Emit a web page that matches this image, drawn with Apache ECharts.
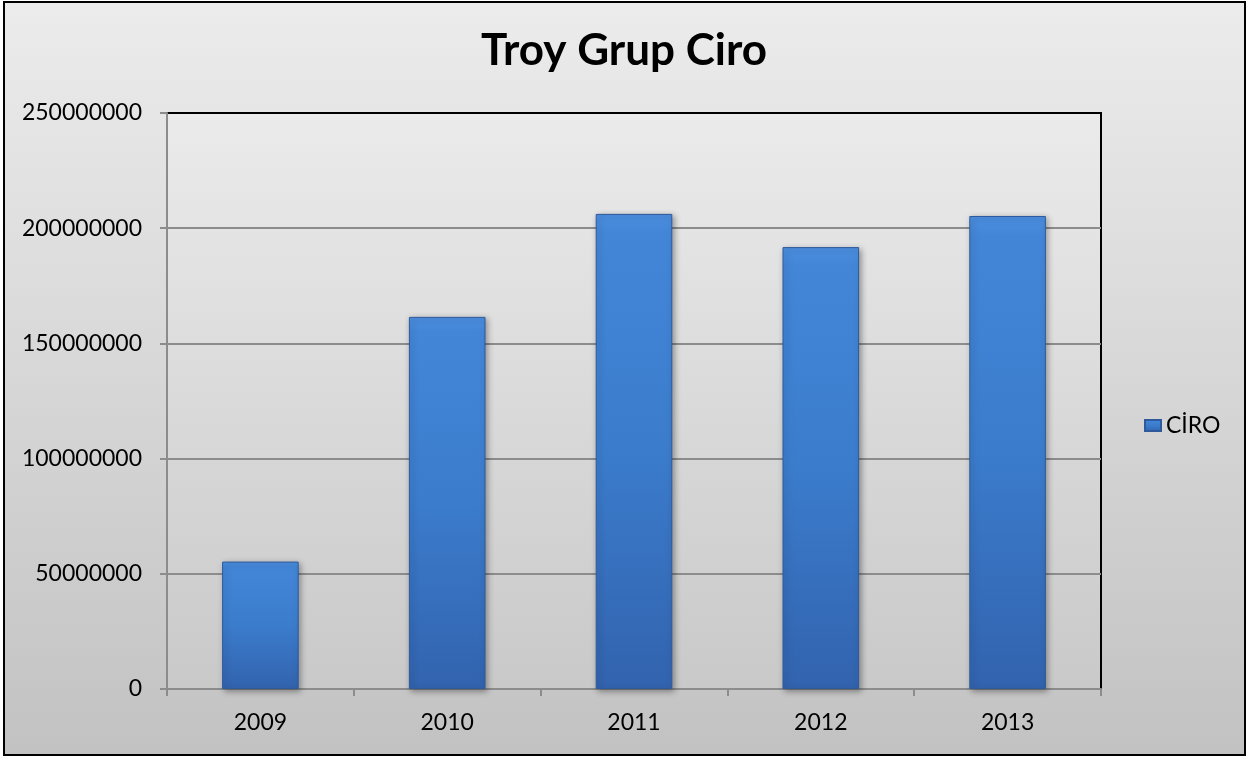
<!DOCTYPE html>
<html>
<head>
<meta charset="utf-8">
<script src="https://cdn.jsdelivr.net/npm/echarts@6/dist/echarts.min.js"></script>
<style>
html,body{margin:0;padding:0;background:#fff;}
#main{width:1248px;height:758px;}
</style>
</head>
<body>
<div id="main"></div>
<script>
const categories = ['2009', '2010', '2011', '2012', '2013'];
const ciroValues = [55300000, 161500000, 206200000, 191800000, 205300000];
const seriesName = 'CİRO';
const titleText = 'Troy Grup Ciro';

const chart = echarts.init(document.getElementById('main'));
const FONT = 'Lato';
chart.setOption({
  animation: false,
  graphic: [{
    type: 'rect', z: -10, silent: true,
    shape: {x: 4, y: 2, width: 1241, height: 753},
    style: {
      fill: new echarts.graphic.LinearGradient(0, 0, 0, 1, [
        {offset: 0, color: '#ececec'}, {offset: 1, color: '#c2c2c2'}
      ]),
      stroke: '#000', lineWidth: 2
    }
  }],
  title: {
    text: titleText, left: 'center', top: 24,
    textStyle: {fontFamily: FONT, fontSize: 44, fontWeight: 'bold', color: '#000'}
  },
  legend: {
    data: [seriesName], orient: 'vertical', left: 1139, top: 409,
    itemWidth: 16, itemHeight: 11, itemGap: 4,
    icon: 'rect',
    textStyle: {fontFamily: FONT, fontSize: 23, color: '#000'}
  },
  grid: {
    left: 167, right: 147, top: 113, bottom: 69,
    show: true,
    backgroundColor: new echarts.graphic.LinearGradient(0, 0, 0, 1, [
      {offset: 0, color: '#ebebeb'}, {offset: 1, color: '#c9c9c9'}
    ]),
    borderColor: '#000', borderWidth: 2
  },
  xAxis: {
    type: 'category', data: categories,
    axisLine: {show: true, lineStyle: {color: '#8c8c8c', width: 2}},
    axisTick: {show: true, length: 7, lineStyle: {color: '#8c8c8c', width: 2}},
    axisLabel: {fontFamily: FONT, fontSize: 23, color: '#000', margin: 22}
  },
  yAxis: {
    type: 'value', min: 0, max: 250000000, interval: 50000000,
    axisLine: {show: true, lineStyle: {color: '#8c8c8c', width: 2}},
    axisTick: {show: true, length: 7, lineStyle: {color: '#8c8c8c', width: 2}},
    axisLabel: {fontFamily: FONT, fontSize: 23, color: '#000', margin: 25,
      formatter: function (v) { return String(v); }},
    splitLine: {show: true, showMaxLine: false, lineStyle: {color: '#8c8c8c', width: 2}}
  },
  series: [{
    name: seriesName, type: 'bar', data: ciroValues, barWidth: '41%',
    itemStyle: {
      color: new echarts.graphic.LinearGradient(0, 0, 0, 1, [
        {offset: 0, color: '#4c8fe0'}, {offset: 0.04, color: '#4386d8'},
        {offset: 0.5, color: '#3b7ccc'}, {offset: 1, color: '#3263ae'}
      ]),
      borderColor: '#2e5a9c', borderWidth: 1,
      shadowColor: 'rgba(0,0,0,0.35)', shadowBlur: 6, shadowOffsetX: 2, shadowOffsetY: 2
    }
  }]
});
</script>
</body>
</html>
